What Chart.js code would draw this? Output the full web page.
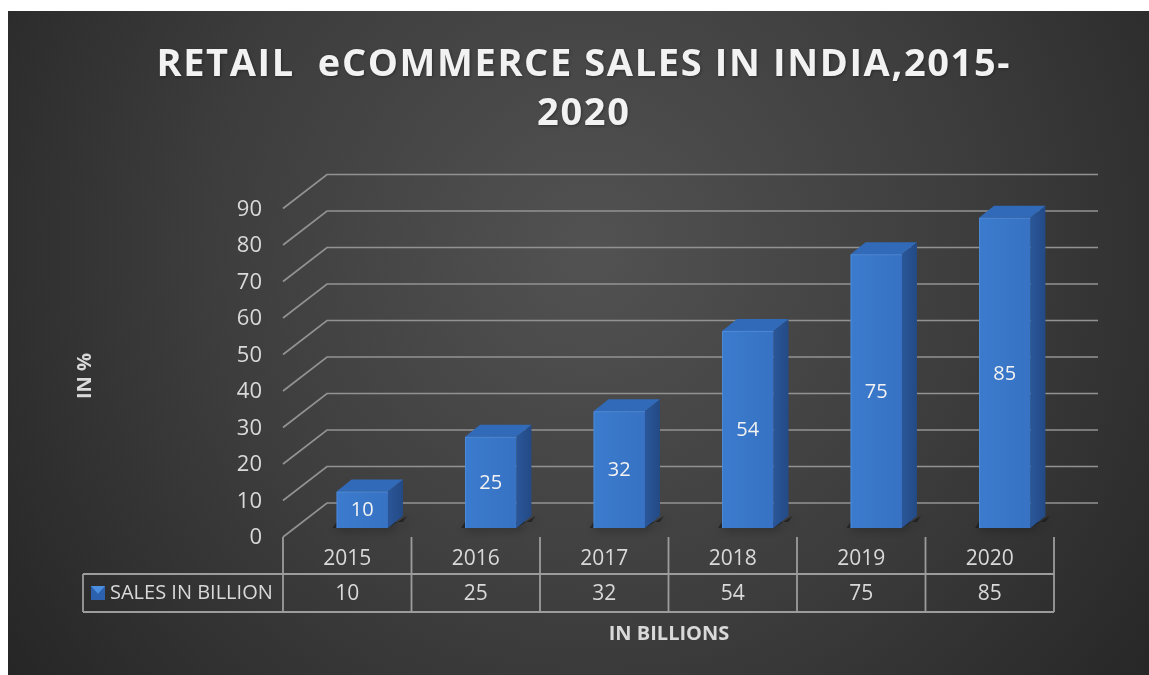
<!DOCTYPE html>
<html><head><meta charset="utf-8">
<script src="https://cdn.jsdelivr.net/npm/chart.js@4/dist/chart.umd.min.js"></script>
<style>html,body{margin:0;padding:0;background:#fff;overflow:hidden}canvas{display:block}</style>
</head><body>
<canvas id="c" width="1149" height="675"></canvas>
<script>
const titleLines = ['RETAIL  eCOMMERCE SALES IN INDIA,2015-', '2020'];
const categories = ['2015', '2016', '2017', '2018', '2019', '2020'];
const seriesName = 'SALES IN BILLION';
const salesValues = [10, 25, 32, 54, 75, 85];
const yTickLabels = ['0', '10', '20', '30', '40', '50', '60', '70', '80', '90'];
const yAxisTitle = 'IN %';
const xAxisTitle = 'IN BILLIONS';

const FONT = '"Open Sans", "DejaVu Sans", sans-serif';
const DEPTH_X = 44, DEPTH_Y = -34;          // floor / wall perspective
const BAR_SHIFT_X = 15, BAR_SHIFT_Y = -9;   // bar front plane inside floor
const BAR_DX = 15, BAR_DY = -12;            // bar body depth

function spacedText(ctx, text, cx, y, targetWidth, spacing) {
  const chars = [...text];
  let w = 0; chars.forEach(c => w += ctx.measureText(c).width);
  if (spacing === undefined) spacing = (targetWidth - w) / (chars.length - 1);
  const total = w + spacing * (chars.length - 1);
  let x = cx - total / 2;
  ctx.textAlign = 'left';
  chars.forEach(c => { ctx.fillText(c, x, y); x += ctx.measureText(c).width + spacing; });
  return spacing;
}

const deco = {
  id: 'deco',
  beforeDraw(chart) {
    const ctx = chart.ctx;
    ctx.save();
    ctx.fillStyle = '#ffffff';
    ctx.fillRect(0, 0, chart.width, chart.height);
    const g = ctx.createRadialGradient(590, 250, 0, 590, 250, 760);
    g.addColorStop(0, '#525252');
    g.addColorStop(0.5, '#3d3d3d');
    g.addColorStop(1, '#232323');
    ctx.fillStyle = g;
    ctx.fillRect(8, 11, chart.width - 8, chart.height - 11);
    // title
    ctx.fillStyle = '#f2f2f2';
    ctx.font = 'bold 38px ' + FONT;
    ctx.textBaseline = 'alphabetic';
    ctx.shadowColor = 'rgba(0,0,0,0.35)';
    ctx.shadowBlur = 3; ctx.shadowOffsetX = 1; ctx.shadowOffsetY = 1;
    const sp = spacedText(ctx, titleLines[0], 583, 76, 853);
    spacedText(ctx, titleLines[1], 583, 125, 0, sp);
    ctx.shadowColor = 'transparent';
    // axis titles
    ctx.fillStyle = '#d9d9d9';
    ctx.font = 'bold 20px ' + FONT;
    ctx.textAlign = 'center'; ctx.textBaseline = 'middle';
    ctx.save();
    ctx.translate(85, 376); ctx.rotate(-Math.PI / 2);
    ctx.fillText(yAxisTitle, 0, 0);
    ctx.restore();
    ctx.fillText(xAxisTitle, 669, 634);
    ctx.restore();
  },
  beforeDatasetsDraw(chart) {
    const ctx = chart.ctx, ys = chart.scales.y, xs = chart.scales.x, a = chart.chartArea;
    ctx.save();
    // gridlines (front diagonal + back wall)
    ctx.strokeStyle = '#929292'; ctx.lineWidth = 1.7;
    ctx.fillStyle = '#d9d9d9'; ctx.font = '22px ' + FONT;
    ctx.textAlign = 'right'; ctx.textBaseline = 'middle';
    yTickLabels.forEach(t => {
      const yp = ys.getPixelForValue(Number(t));
      ctx.beginPath();
      ctx.moveTo(a.left, yp);
      ctx.lineTo(a.left + DEPTH_X, yp + DEPTH_Y);
      ctx.lineTo(a.right + DEPTH_X, yp + DEPTH_Y);
      ctx.stroke();
      ctx.fillText(t, a.left - 21, yp + 1);
    });
    // data table
    const rowH1 = 37, rowH2 = 38;
    const top = a.bottom, mid = a.bottom + rowH1, bot = mid + rowH2;
    const step = (a.right - a.left) / categories.length;
    ctx.strokeStyle = '#9c9c9c'; ctx.lineWidth = 1.8;
    ctx.beginPath();
    for (let i = 0; i <= categories.length; i++) {
      const xx = a.left + i * step;
      ctx.moveTo(xx, top); ctx.lineTo(xx, bot);
    }
    ctx.moveTo(83, mid); ctx.lineTo(a.right, mid);
    ctx.moveTo(83, bot); ctx.lineTo(a.right, bot);
    ctx.moveTo(83, mid); ctx.lineTo(83, bot);
    ctx.stroke();
    ctx.fillStyle = '#d9d9d9'; ctx.font = '21px ' + FONT;
    ctx.textAlign = 'center'; ctx.textBaseline = 'middle';
    categories.forEach((c, i) => {
      const cx = xs.getPixelForValue(i);
      ctx.fillText(c, cx, top + 22);
      ctx.fillText(String(salesValues[i]), cx, mid + 20);
    });
    // legend key
    const kx = 91, ky = 586, ks = 14;
    ctx.fillStyle = '#2c62ad'; ctx.fillRect(kx, ky, ks, ks);
    ctx.fillStyle = '#4b8ee0';
    ctx.beginPath(); ctx.moveTo(kx, ky); ctx.lineTo(kx + ks, ky); ctx.lineTo(kx + ks / 2, ky + ks * 0.55); ctx.closePath(); ctx.fill();
    ctx.fillStyle = '#d9d9d9'; ctx.textAlign = 'left';
    ctx.font = '20px ' + FONT;
    ctx.fillText(seriesName, 110, mid + 19);
    ctx.restore();
  },
  afterDatasetsDraw(chart) {
    const ctx = chart.ctx, meta = chart.getDatasetMeta(0);
    ctx.save();
    meta.data.forEach((el, i) => {
      const w = el.width;
      const l = el.x - w / 2 + BAR_SHIFT_X, r = l + w;
      const t = el.y + BAR_SHIFT_Y, b = el.base + BAR_SHIFT_Y;
      // shadow on floor
      ctx.save();
      ctx.shadowColor = 'rgba(0,0,0,0.55)'; ctx.shadowBlur = 10; ctx.shadowOffsetX = 3; ctx.shadowOffsetY = 2;
      ctx.fillStyle = 'rgba(20,20,20,0.6)';
      ctx.beginPath();
      ctx.moveTo(l - 4, b); ctx.lineTo(r, b); ctx.lineTo(r + BAR_DX + 4, b + BAR_DY); ctx.lineTo(r + BAR_DX, b - 6); ctx.lineTo(l, b - 6); ctx.closePath();
      ctx.fill();
      ctx.restore();
      // side face
      const sg = ctx.createLinearGradient(r, 0, r + BAR_DX, 0);
      sg.addColorStop(0, '#2a5699'); sg.addColorStop(1, '#234a85');
      ctx.fillStyle = sg;
      ctx.beginPath();
      ctx.moveTo(r, t); ctx.lineTo(r + BAR_DX, t + BAR_DY); ctx.lineTo(r + BAR_DX, b + BAR_DY); ctx.lineTo(r, b); ctx.closePath();
      ctx.fill();
      // top face
      ctx.fillStyle = '#306ab8';
      ctx.beginPath();
      ctx.moveTo(l, t); ctx.lineTo(l + BAR_DX, t + BAR_DY); ctx.lineTo(r + BAR_DX, t + BAR_DY); ctx.lineTo(r, t); ctx.closePath();
      ctx.fill();
      // front face
      const fg = ctx.createLinearGradient(l, 0, r, 0);
      fg.addColorStop(0, '#3b7bcd'); fg.addColorStop(1, '#3772c4');
      ctx.fillStyle = fg;
      ctx.fillRect(l, t, w, b - t);
      ctx.strokeStyle = 'rgba(90,150,225,0.6)'; ctx.lineWidth = 1;
      ctx.beginPath(); ctx.moveTo(l + 0.5, b); ctx.lineTo(l + 0.5, t + 0.5); ctx.lineTo(r, t + 0.5); ctx.stroke();
      // value label
      ctx.fillStyle = '#f2f2f2'; ctx.font = '20px ' + FONT;
      ctx.textAlign = 'center'; ctx.textBaseline = 'middle';
      ctx.fillText(String(salesValues[i]), (l + r) / 2, (t + b) / 2 + 1);
    });
    ctx.restore();
  }
};

new Chart(document.getElementById('c'), {
  type: 'bar',
  data: {
    labels: categories,
    datasets: [{
      label: seriesName,
      data: salesValues,
      backgroundColor: 'rgba(0,0,0,0)',
      borderWidth: 0,
      barPercentage: 0.4,
      categoryPercentage: 1
    }]
  },
  options: {
    responsive: false,
    animation: false,
    devicePixelRatio: 1,
    layout: { padding: { left: 283, right: 95, top: 208.5, bottom: 138 } },
    scales: {
      x: { display: false },
      y: { display: false, min: 0, max: 90, ticks: { stepSize: 10 } }
    },
    plugins: { legend: { display: false }, tooltip: { enabled: false }, title: { display: false } }
  },
  plugins: [deco]
});
</script>
</body></html>
